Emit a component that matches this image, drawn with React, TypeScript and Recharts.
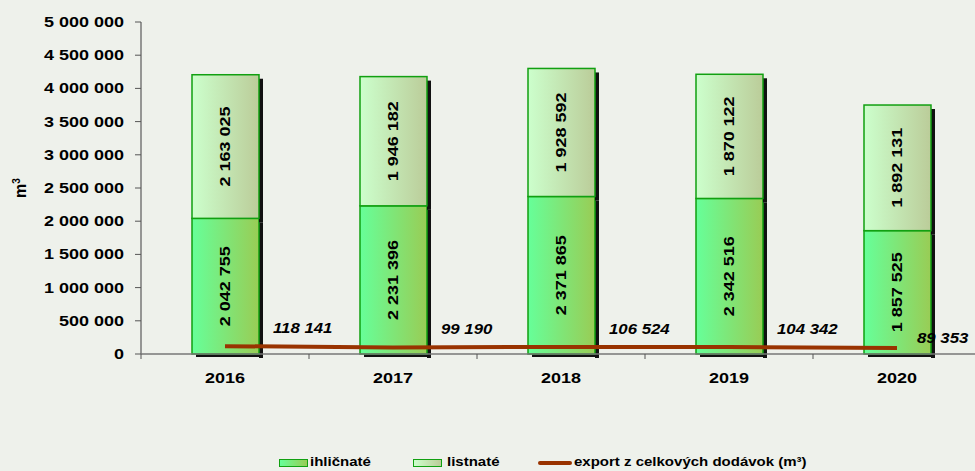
import {
  Bar,
  ComposedChart,
  LabelList,
  Legend,
  Line,
  XAxis,
  YAxis,
} from "recharts";

const YEARS = ["2016", "2017", "2018", "2019", "2020"];
const CONIFERS = [2042755, 2231396, 2371865, 2342516, 1857525];
const BROADLEAF = [2163025, 1946182, 1928592, 1870122, 1892131];
const EXPORT_TOTAL = [118141, 99190, 106524, 104342, 89353];
const Y_TICKS = [0, 500000, 1000000, 1500000, 2000000, 2500000, 3000000, 3500000, 4000000, 4500000, 5000000];

const FONT = '"Liberation Sans", Arial, sans-serif';
const BAND = 168;
const STRETCH = 1.2;

type Row = { year: string; conifers: number; broadleaf: number; exportTotal: number };

const data: Row[] = YEARS.map((year, i) => ({
  year,
  conifers: CONIFERS[i],
  broadleaf: BROADLEAF[i],
  exportTotal: EXPORT_TOTAL[i],
}));

const fmt = (v: number) => v.toLocaleString("en-US").replace(/,/g, " ");

// Bold Arial-like text, a bit wider than normal, like the original export
function WideText(props: {
  x: number;
  y: number;
  rotate?: number;
  anchor?: "start" | "middle" | "end";
  baseline?: string;
  size?: number;
  italic?: boolean;
  children: any;
}) {
  const { x, y, rotate = 0, anchor = "start", baseline, size = 15, italic, children } = props;
  return (
    <text
      transform={`translate(${x} ${y}) rotate(${rotate}) scale(${STRETCH} 1)`}
      x={0}
      y={0}
      textAnchor={anchor}
      dominantBaseline={baseline}
      fontFamily={FONT}
      fontWeight="bold"
      fontStyle={italic ? "italic" : "normal"}
      fontSize={size}
      fill="#000"
    >
      {children}
    </text>
  );
}

function ShadowBar(props: any) {
  const { x, y, width, height, fill, bottomShadow } = props;
  if (!height || height <= 0) return null;
  return (
    <g>
      <rect x={x + width} y={y + 4} width={4} height={height} fill="#111" />
      {bottomShadow && <rect x={x + 4} y={y + height} width={width} height={3} fill="#111" />}
      <rect x={x} y={y} width={width} height={height} fill={fill} stroke="#11a011" strokeWidth={1.5} />
    </g>
  );
}

function BarValue(props: any) {
  const { x, y, width, height, value } = props;
  return (
    <WideText x={x + width / 2} y={y + height / 2} rotate={-90} anchor="middle" baseline="central">
      {fmt(value)}
    </WideText>
  );
}

function ExportValue(props: any) {
  const { x, y, value, index } = props;
  const last = index === EXPORT_TOTAL.length - 1;
  return (
    <WideText x={x + (last ? 20 : 48)} y={y - (last ? 10 : 18)} baseline="central" size={14} italic>
      {fmt(value)}
    </WideText>
  );
}

function YearTick(props: any) {
  const { x, y, payload, index } = props;
  return (
    <g>
      <line x1={x - BAND / 2} y1={y} x2={x - BAND / 2} y2={y + 5} stroke="#555" />
      {index === YEARS.length - 1 && (
        <line x1={x + BAND / 2} y1={y} x2={x + BAND / 2} y2={y + 5} stroke="#555" />
      )}
      <WideText x={x} y={y + 29} anchor="middle">
        {payload.value}
      </WideText>
    </g>
  );
}

function ValueTick(props: any) {
  const { x, y, payload } = props;
  return (
    <WideText x={x} y={y} anchor="end" baseline="central">
      {fmt(payload.value)}
    </WideText>
  );
}

function UnitLabel() {
  return (
    <text
      transform="translate(26 188) rotate(-90)"
      textAnchor="middle"
      fontFamily={FONT}
      fontWeight="bold"
      fontSize={16}
      fill="#000"
    >
      m<tspan fontSize={10} dy={-6}>3</tspan>
    </text>
  );
}

function ChartLegend() {
  const text = {
    position: "absolute" as const,
    top: 1,
    fontFamily: FONT,
    fontWeight: "bold" as const,
    fontSize: 12.5,
    color: "#000",
    lineHeight: "16px",
    whiteSpace: "nowrap" as const,
    transform: `scaleX(${STRETCH})`,
    transformOrigin: "left center",
  };
  return (
    <div style={{ position: "relative", height: 18, width: 975 }}>
      <div
        style={{
          position: "absolute", left: 279, top: 6, width: 27, height: 6,
          background: "linear-gradient(to right, #66ff99, #99cc55)", border: "1.5px solid #11a011",
        }}
      />
      <span style={{ ...text, left: 310 }}>ihličnaté</span>
      <div
        style={{
          position: "absolute", left: 413, top: 6, width: 27, height: 6,
          background: "linear-gradient(to right, #ccffcc, #bbcc99)", border: "1.5px solid #11a011",
        }}
      />
      <span style={{ ...text, left: 447 }}>listnaté</span>
      <div style={{ position: "absolute", left: 538, top: 8, width: 34, height: 4, background: "#993300", borderRadius: 2 }} />
      <span style={{ ...text, left: 574 }}>export z celkových dodávok (m³)</span>
    </div>
  );
}

export default function App() {
  return (
    <div
      style={{
        position: "absolute",
        left: 0,
        top: 0,
        width: 975,
        height: 471,
        overflow: "hidden",
        background: "#eef1eb",
      }}
    >
      <ComposedChart
        width={981}
        height={471}
        data={data}
        margin={{ top: 22, right: 0, bottom: 0, left: 0 }}
        barCategoryGap={0}
      >
        <defs>
          <linearGradient id="gradConifers" x1="0" y1="0" x2="1" y2="0">
            <stop offset="0%" stopColor="#66ff99" />
            <stop offset="100%" stopColor="#99cc55" />
          </linearGradient>
          <linearGradient id="gradBroadleaf" x1="0" y1="0" x2="1" y2="0">
            <stop offset="0%" stopColor="#ccffcc" />
            <stop offset="100%" stopColor="#bbcc99" />
          </linearGradient>
        </defs>
        <XAxis
          dataKey="year"
          height={99}
          tickSize={0}
          tickMargin={0}
          tickLine={false}
          axisLine={{ stroke: "#777", strokeWidth: 1.5 }}
          tick={<YearTick />}
          interval={0}
        />
        <YAxis
          width={141}
          domain={[0, 5000000]}
          ticks={Y_TICKS}
          interval={0}
          tickSize={6}
          tickMargin={11}
          axisLine={{ stroke: "#777", strokeWidth: 1.5 }}
          tickLine={{ stroke: "#555" }}
          tick={<ValueTick />}
          label={<UnitLabel />}
        />
        <Legend verticalAlign="bottom" height={18} content={<ChartLegend />} />
        <Bar
          dataKey="conifers"
          name="ihličnaté"
          stackId="a"
          barSize={67}
          fill="url(#gradConifers)"
          shape={<ShadowBar bottomShadow />}
          isAnimationActive={false}
        >
          <LabelList dataKey="conifers" content={<BarValue />} />
        </Bar>
        <Bar
          dataKey="broadleaf"
          name="listnaté"
          stackId="a"
          barSize={67}
          fill="url(#gradBroadleaf)"
          shape={<ShadowBar />}
          isAnimationActive={false}
        >
          <LabelList dataKey="broadleaf" content={<BarValue />} />
        </Bar>
        <Line
          dataKey="exportTotal"
          name="export z celkových dodávok (m³)"
          stroke="#993300"
          strokeWidth={4}
          dot={false}
          activeDot={false}
          isAnimationActive={false}
        >
          <LabelList dataKey="exportTotal" content={<ExportValue />} />
        </Line>
      </ComposedChart>
    </div>
  );
}
